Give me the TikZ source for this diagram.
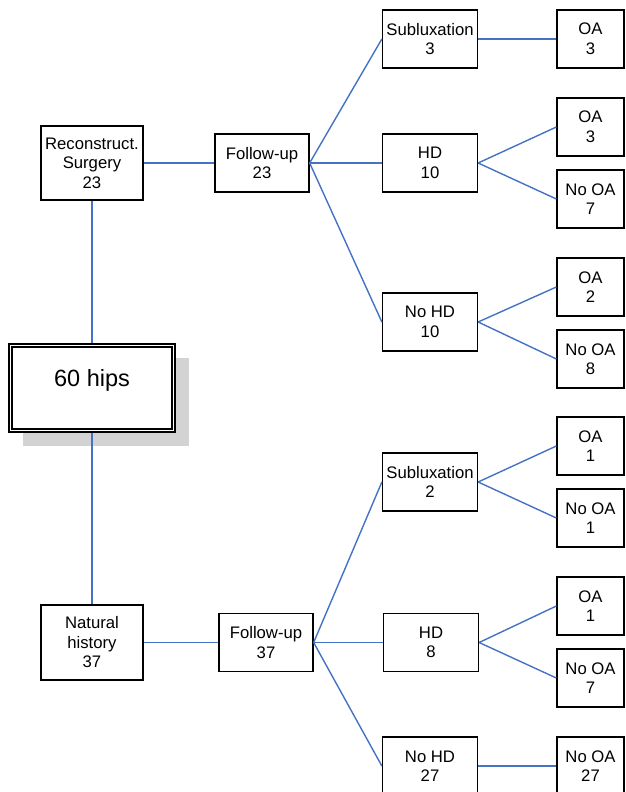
\documentclass[tikz,border=0pt]{standalone}
\usepackage{fontspec}
\setmainfont{Liberation Sans}
\definecolor{conn}{RGB}{68,114,196}
\definecolor{shadowgray}{RGB}{211,211,211}
\begin{document}
\begin{tikzpicture}[x=1pt,y=-1pt,
  box/.style={draw=black,line width=1.3pt,fill=white,align=center,inner sep=0pt,
    minimum width=95pt,minimum height=58pt,
    font=\fontsize{16.7}{19.5}\selectfont},
  leaf/.style={box,minimum width=67pt},
  link/.style={draw=conn,line width=1.4pt}]
\useasboundingbox (0,0) rectangle (625,792);
\clip (0,0) rectangle (625,792);
% root with shadow and double border
\fill[shadowgray] (23,358) rectangle (189,446);
\node[draw=black,line width=2pt,fill=white,inner sep=0pt,minimum width=166pt,minimum height=88pt,
  font=\fontsize{23.5}{27}\selectfont] (root) at (92,388) {\raisebox{20pt}{60 hips}};
\draw[line width=1.2pt] ([shift={(4,-4)}]root.south west) rectangle ([shift={(-4,4)}]root.north east);
% level 1
\node[box,minimum width=102pt,minimum height=74pt] (rs) at (92,163) {Reconstruct.\\Surgery\\23};
\node[box,minimum width=102pt,minimum height=75pt] (nh) at (92,642.5) {Natural\\history\\37};
% level 2
\node[box,minimum width=94pt] (fu1) at (262,163) {Follow-up\\23};
\node[box,minimum width=94pt] (fu2) at (266,642.5) {Follow-up\\37};
% level 3
\node[box] (sub1) at (430,39) {Subluxation\\3};
\node[box] (hd1) at (430,163) {HD\\10};
\node[box] (nohd1) at (430,322) {No HD\\10};
\node[box] (sub2) at (430,482) {Subluxation\\2};
\node[box] (hd2) at (431,642.5) {HD\\8};
\node[box] (nohd2) at (430,766) {No HD\\27};
% leaves
\node[leaf] (oa1) at (590.5,39) {OA\\3};
\node[leaf] (oa2) at (590.5,127) {OA\\3};
\node[leaf] (nooa2) at (590.5,199) {No OA\\7};
\node[leaf] (oa3) at (590.5,287) {OA\\2};
\node[leaf] (nooa3) at (590.5,359) {No OA\\8};
\node[leaf] (oa4) at (590.5,446) {OA\\1};
\node[leaf] (nooa4) at (590.5,518) {No OA\\1};
\node[leaf] (oa5) at (590.5,606) {OA\\1};
\node[leaf] (nooa5) at (590.5,678) {No OA\\7};
\node[leaf] (nooa6) at (590.5,766) {No OA\\27};
% connectors
\draw[link] (root.north) -- (rs.south);
\draw[link] (root.south) -- (nh.north);
\draw[link] (rs.east) -- (fu1.west);
\draw[link] (nh.east) -- (fu2.west);
\draw[link] (fu1.east) -- (sub1.west);
\draw[link] (fu1.east) -- (hd1.west);
\draw[link] (fu1.east) -- (nohd1.west);
\draw[link] (fu2.east) -- (sub2.west);
\draw[link] (fu2.east) -- (hd2.west);
\draw[link] (fu2.east) -- (nohd2.west);
\draw[link] (sub1.east) -- (oa1.west);
\draw[link] (hd1.east) -- (oa2.west);
\draw[link] (hd1.east) -- (nooa2.west);
\draw[link] (nohd1.east) -- (oa3.west);
\draw[link] (nohd1.east) -- (nooa3.west);
\draw[link] (sub2.east) -- (oa4.west);
\draw[link] (sub2.east) -- (nooa4.west);
\draw[link] (hd2.east) -- (oa5.west);
\draw[link] (hd2.east) -- (nooa5.west);
\draw[link] (nohd2.east) -- (nooa6.west);
\end{tikzpicture}
\end{document}
